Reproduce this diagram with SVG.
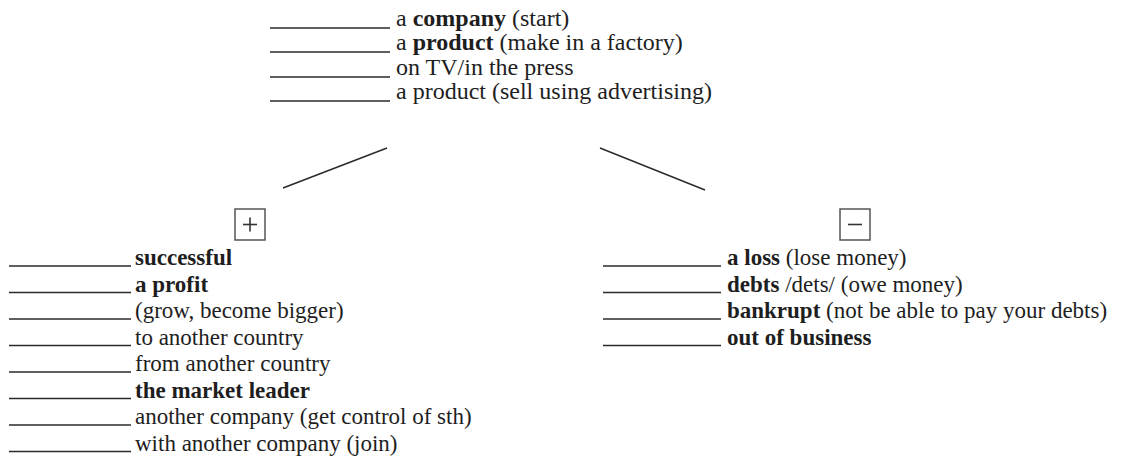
<svg xmlns="http://www.w3.org/2000/svg" width="1131" height="462" viewBox="0 0 1131 462">
<style>
text{font-family:"Liberation Serif","Times New Roman",serif;font-size:23px;fill:#1e1e1e}
.t{font-size:24px}
.b{font-weight:bold}
.blank{stroke:#2a2a2a;stroke-width:1.5}
.conn{stroke:#2a2a2a;stroke-width:1.5;fill:none}
.box{stroke:#555;stroke-width:1.5;fill:none}
.sign{stroke:#333;stroke-width:1.6}
</style>
<rect width="1131" height="462" fill="#fff"/>
<g id="top">
<line class="blank" x1="270" y1="28" x2="390" y2="28"/><text class="t" x="396" y="26">a <tspan class="b">company</tspan> (start)</text>
<line class="blank" x1="270" y1="52" x2="390" y2="52"/><text class="t" x="396" y="50">a <tspan class="b">product</tspan> (make in a factory)</text>
<line class="blank" x1="270" y1="77" x2="390" y2="77"/><text class="t" x="396" y="75">on TV/in the press</text>
<line class="blank" x1="270" y1="101" x2="390" y2="101"/><text class="t" x="396" y="99">a product (sell using advertising)</text>
</g>
<g id="connectors">
<line class="conn" x1="387" y1="148" x2="283" y2="188"/>
<line class="conn" x1="600" y1="148" x2="705" y2="190"/>
</g>
<g id="plus">
<rect class="box" x="235" y="209" width="30" height="31"/>
<line class="sign" x1="243" y1="224.5" x2="257" y2="224.5"/>
<line class="sign" x1="250" y1="217.5" x2="250" y2="231.5"/>
</g>
<g id="minus">
<rect class="box" x="840" y="209" width="30" height="31"/>
<line class="sign" x1="848" y1="224.5" x2="862" y2="224.5"/>
</g>
<g id="positive">
<line class="blank" x1="9" y1="266" x2="131" y2="266"/><text x="135" y="265" class="b">successful</text>
<line class="blank" x1="9" y1="292.5" x2="131" y2="292.5"/><text x="135" y="291.5" class="b">a profit</text>
<line class="blank" x1="9" y1="319" x2="131" y2="319"/><text x="135" y="318">(grow, become bigger)</text>
<line class="blank" x1="9" y1="345.5" x2="131" y2="345.5"/><text x="135" y="344.5">to another country</text>
<line class="blank" x1="9" y1="372" x2="131" y2="372"/><text x="135" y="371">from another country</text>
<line class="blank" x1="9" y1="398.5" x2="131" y2="398.5"/><text x="135" y="397.5" class="b">the market leader</text>
<line class="blank" x1="9" y1="425" x2="131" y2="425"/><text x="135" y="424">another company (get control of sth)</text>
<line class="blank" x1="9" y1="451.5" x2="131" y2="451.5"/><text x="135" y="450.5">with another company (join)</text>
</g>
<g id="negative">
<line class="blank" x1="603" y1="266" x2="721" y2="266"/><text x="727" y="265"><tspan class="b">a loss</tspan> (lose money)</text>
<line class="blank" x1="603" y1="292.5" x2="721" y2="292.5"/><text x="727" y="291.5"><tspan class="b">debts</tspan> /dets/ (owe money)</text>
<line class="blank" x1="603" y1="319" x2="721" y2="319"/><text x="727" y="318"><tspan class="b">bankrupt</tspan> (not be able to pay your debts)</text>
<line class="blank" x1="603" y1="345.5" x2="721" y2="345.5"/><text x="727" y="344.5" class="b">out of business</text>
</g>
</svg>
